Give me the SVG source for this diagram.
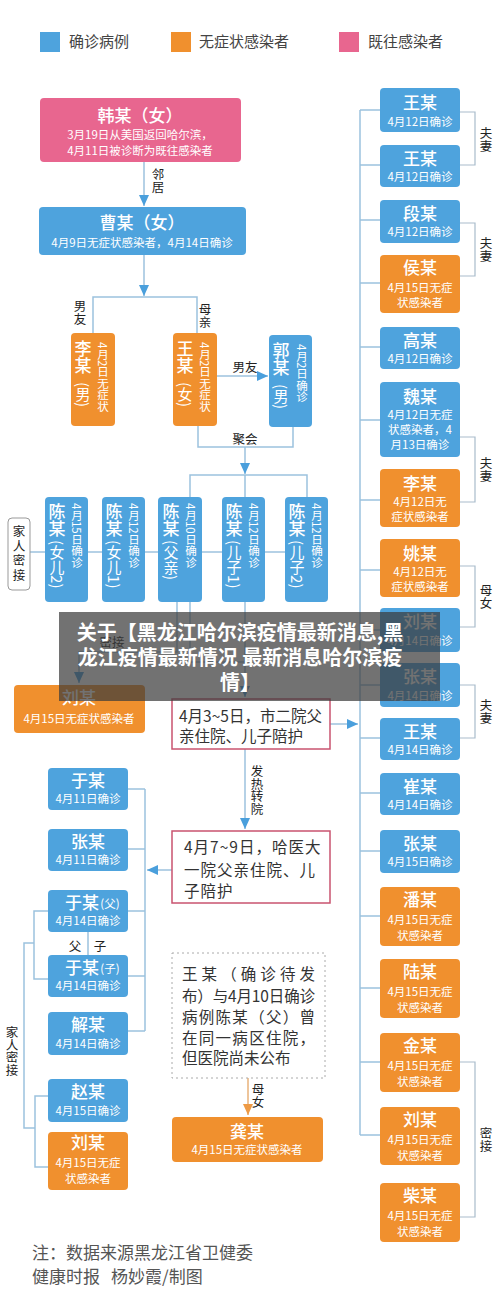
<svg xmlns="http://www.w3.org/2000/svg" width="500" height="1313" viewBox="0 0 500 1313">
<style>
text{font-family:"Noto Sans CJK SC","Noto Sans",sans-serif;}
.b{fill:#4ea3dd}
.o{fill:#f0902e}
.p{fill:#e8668f}
.t{fill:#fff;font-size:17px;text-anchor:middle;font-weight:500}
.s{fill:#fff;font-size:11.5px;text-anchor:middle}
.ln{fill:none;stroke:#9cc2de;stroke-width:1.5}
.br{fill:none;stroke:#a9bccb;stroke-width:1.2}
.lb{fill:#222;font-size:12.5px;writing-mode:vertical-rl}
.lh{fill:#222;font-size:12.5px;text-anchor:middle}
.vt{fill:#fff;font-size:17px;writing-mode:vertical-rl;font-weight:500}
.vp{fill:#fff;font-size:15px;writing-mode:vertical-rl}
.vs{fill:#fff;font-size:11.5px;writing-mode:vertical-rl}
.bx{fill:#fff;stroke:#c9536f;stroke-width:1.5}
.bt{fill:#333;font-size:15.5px}
.leg{fill:#444;font-size:15px}
</style>
<defs>
<marker id="ab" markerUnits="userSpaceOnUse" markerWidth="12" markerHeight="10" refX="11" refY="5" orient="auto"><path d="M0,0 L11,5 L0,10 z" fill="#4a9fdc"/></marker>
<marker id="ao" markerUnits="userSpaceOnUse" markerWidth="12" markerHeight="10" refX="11" refY="5" orient="auto"><path d="M0,0 L11,5 L0,10 z" fill="#ee9a45"/></marker>
</defs>

<g id="legend">
<rect x="40" y="32" width="20" height="20" class="b"/><text x="69" y="47" class="leg">确诊病例</text>
<rect x="171" y="32" width="20" height="20" class="o"/><text x="199" y="47" class="leg">无症状感染者</text>
<rect x="339" y="32" width="20" height="20" class="p"/><text x="368" y="47" class="leg">既往感染者</text>
</g>

<g id="connectors">
<line x1="144" y1="162" x2="144" y2="206" class="ln" marker-end="url(#ab)"/>
<line x1="144" y1="255" x2="144" y2="296" class="ln" marker-end="url(#ab)"/>
<path d="M93,333 V297 H197 V333" class="ln"/>
<line x1="217" y1="376" x2="268" y2="376" class="ln" marker-end="url(#ab)"/>
<path d="M198,426 V447 H293 V427" class="ln"/>
<line x1="245" y1="447" x2="245" y2="474" class="ln" marker-end="url(#ab)"/>
<path d="M190,497 V475 H307 V497 M245,475 V497" class="ln"/>
<line x1="30" y1="552" x2="285" y2="552" class="ln"/>
<path d="M177,602 V652 H79 V683" class="ln" marker-end="url(#ab)"/>
<path d="M190,602 V662 H245" class="ln"/>
<line x1="245" y1="602" x2="245" y2="697" class="ln" marker-end="url(#ab)"/>
<line x1="245" y1="749" x2="245" y2="829" class="ln" marker-end="url(#ab)"/>
<line x1="172" y1="870" x2="147" y2="870" class="ln" marker-end="url(#ab)"/>
<line x1="330" y1="724" x2="358" y2="724" class="ln" marker-end="url(#ab)"/>
<path d="M145,789 V1031 M128,789 H145 M128,849 H145 M128,911 H145 M128,976 H145 M128,1031 H145" class="ln"/>
<path d="M48,911 H34 V979 H48 M34,943 H24 V1128 H35 M48,1096 H35 V1167 H48 M88,932 V955" class="ln"/>
<line x1="248" y1="1078" x2="248" y2="1115" stroke="#e8b27a" stroke-width="1.5" marker-end="url(#ao)"/>
<path d="M360,110 V1135 M360,110 H380 M360,165 H380 M360,220 H380 M360,283 H380 M360,347 H380 M360,420 H380 M360,500 H380 M360,570 H380 M360,630 H380 M360,685 H380 M360,738 H380 M360,793 H380 M360,851 H380 M360,916 H380 M360,988 H380 M360,1062 H380 M360,1135 H380" class="ln"/>
<path d="M460,112 H475 V165 H460 M460,223 H475 V276 H460 M460,437 H475 V502 H460 M460,566 H475 V627 H460 M460,685 H475 V738 H460 M460,1062 H475 V1217 H460" class="br"/>
<text x="158" y="168" class="lb">邻居</text>
<text x="80" y="300" class="lb">男友</text>
<text x="205" y="303" class="lb">母亲</text>
<text x="245" y="372" class="lh">男友</text>
<text x="245" y="444" class="lh">聚会</text>
<text x="112" y="647" class="lh">密接</text>
<text x="257" y="765" class="lb">发热转院</text>
<text x="75" y="951" class="lh" font-size="14">父</text>
<text x="100" y="951" class="lh" font-size="14">子</text>
<text x="12" y="1026" class="lb" font-size="12">家人密接</text>
<text x="258" y="1083" class="lb" font-size="12">母女</text>
<text x="486" y="127" class="lb">夫妻</text>
<text x="486" y="237" class="lb">夫妻</text>
<text x="486" y="457" class="lb">夫妻</text>
<text x="486" y="584" class="lb">母女</text>
<text x="486" y="699" class="lb">夫妻</text>
<text x="486" y="1127" class="lb">密接</text>
</g>

<g id="han"><rect x="40" y="98" width="201" height="64" rx="4" class="p"/>
<text x="140" y="122" class="t" font-size="18">韩某（女）</text>
<text x="140" y="139" class="s">3月19日从美国返回哈尔滨，</text>
<text x="140" y="155" class="s">4月11日被诊断为既往感染者</text></g>

<g id="cao"><rect x="39" y="207" width="207" height="48" rx="4" class="b"/>
<text x="142" y="229" class="t" font-size="18">曹某（女）</text>
<text x="142" y="247" class="s">4月9日无症状感染者，4月14日确诊</text></g>

<g id="li1"><rect x="71" y="333" width="44" height="93" rx="4" class="o"/>
<text x="83" y="340" class="vt">李某</text><text x="83" y="382" class="vp">(男)</text>
<text x="103" y="342" class="vs">4月2日无症状</text></g>

<g id="wang0"><rect x="173" y="333" width="44" height="93" rx="4" class="o"/>
<text x="185" y="340" class="vt">王某</text><text x="185" y="382" class="vp">(女)</text>
<text x="205" y="342" class="vs">4月2日无症状</text></g>

<g id="guo"><rect x="269" y="335" width="43" height="92" rx="4" class="b"/>
<text x="281" y="342" class="vt">郭某</text><text x="281" y="384" class="vp">(男)</text>
<text x="302" y="344" class="vs">4月2日确诊</text></g>

<g id="jiaren1"><rect x="8" y="518" width="22" height="72" rx="4" fill="#fff" stroke="#999"/>
<text x="19" y="525" class="lb" font-size="13" letter-spacing="2">家人密接</text></g>

<g id="chen-d2"><rect x="45" y="497" width="43" height="105" rx="4" class="b"/>
<text x="57" y="503" class="vt">陈某</text><text x="57" y="540" class="vp">(女儿2)</text>
<text x="77" y="503" class="vs" font-size="12">4月15日确诊</text></g>
<g id="chen-d1"><rect x="102" y="497" width="43" height="105" rx="4" class="b"/>
<text x="114" y="503" class="vt">陈某</text><text x="114" y="540" class="vp">(女儿1)</text>
<text x="134" y="503" class="vs" font-size="12">4月12日确诊</text></g>
<g id="chen-f"><rect x="158" y="497" width="44" height="105" rx="4" class="b"/>
<text x="171" y="503" class="vt">陈某</text><text x="171" y="540" class="vp">(父亲)</text>
<text x="191" y="503" class="vs" font-size="12">4月10日确诊</text></g>
<g id="chen-s1"><rect x="222" y="497" width="43" height="105" rx="4" class="b"/>
<text x="234" y="503" class="vt">陈某</text><text x="234" y="540" class="vp">(儿子1)</text>
<text x="254" y="503" class="vs" font-size="12">4月12日确诊</text></g>
<g id="chen-s2"><rect x="285" y="497" width="43" height="105" rx="4" class="b"/>
<text x="297" y="503" class="vt">陈某</text><text x="297" y="540" class="vp">(儿子2)</text>
<text x="317" y="503" class="vs" font-size="12">4月12日确诊</text></g>

<g id="liu-top"><rect x="14" y="685" width="131" height="48" rx="4" class="o"/>
<text x="79" y="704" class="t">刘某</text><text x="79" y="723" class="s">4月15日无症状感染者</text></g>

<g id="hosp1"><rect x="172" y="699" width="158" height="50" class="bx"/>
<text x="179" y="722" class="bt">4月3~5日，市二院父</text>
<text x="179" y="742" class="bt">亲住院、儿子陪护</text></g>

<g id="hosp2"><rect x="172" y="831" width="158" height="72" class="bx"/>
<text x="184" y="853" class="bt" letter-spacing="1">4月7~9日，哈医大</text>
<text x="184" y="876" class="bt" letter-spacing="1">一院父亲住院、儿</text>
<text x="184" y="897" class="bt" letter-spacing="1">子陪护</text></g>

<g id="note"><rect x="172" y="953" width="153" height="125" fill="none" stroke="#aaa" stroke-dasharray="2,3"/>
<text x="182" y="980" class="bt" font-size="15" textLength="133" lengthAdjust="spacing">王某（确诊待发</text>
<text x="182" y="1002" class="bt" font-size="15" textLength="133" lengthAdjust="spacing">布）与4月10日确诊</text>
<text x="182" y="1023" class="bt" font-size="15" textLength="133" lengthAdjust="spacing">病例陈某（父）曾</text>
<text x="182" y="1044" class="bt" font-size="15" textLength="133" lengthAdjust="spacing">在同一病区住院，</text>
<text x="182" y="1064" class="bt" font-size="15">但医院尚未公布</text></g>

<g id="gong"><rect x="172" y="1117" width="151" height="45" rx="4" class="o"/>
<text x="247" y="1138" class="t">龚某</text><text x="247" y="1154" class="s">4月15日无症状感染者</text></g>

<g id="yu1"><rect x="48" y="768" width="80" height="42" rx="4" class="b"/><text x="88" y="787" class="t">于某</text><text x="88" y="803" class="s">4月11日确诊</text></g>
<g id="zhang1"><rect x="48" y="829" width="80" height="42" rx="4" class="b"/><text x="88" y="848" class="t">张某</text><text x="88" y="864" class="s">4月11日确诊</text></g>
<g id="yu-f"><rect x="48" y="890" width="80" height="42" rx="4" class="b"/><text x="82" y="909" class="t">于某</text><text x="110" y="908" class="s" font-size="12">(父)</text><text x="88" y="925" class="s">4月14日确诊</text></g>
<g id="yu-s"><rect x="48" y="955" width="80" height="42" rx="4" class="b"/><text x="82" y="974" class="t">于某</text><text x="110" y="973" class="s" font-size="12">(子)</text><text x="88" y="990" class="s">4月14日确诊</text></g>
<g id="xie"><rect x="48" y="1012" width="80" height="43" rx="4" class="b"/><text x="88" y="1031" class="t">解某</text><text x="88" y="1048" class="s">4月14日确诊</text></g>
<g id="zhao"><rect x="48" y="1079" width="80" height="43" rx="4" class="b"/><text x="88" y="1098" class="t">赵某</text><text x="88" y="1115" class="s">4月15日确诊</text></g>
<g id="liu-l"><rect x="48" y="1132" width="80" height="58" rx="4" class="o"/><text x="88" y="1149" class="t">刘某</text><text x="88" y="1167" class="s">4月15日无症</text><text x="88" y="1183" class="s">状感染者</text></g>

<g id="r1"><rect x="380" y="88" width="80" height="44" rx="4" class="b"/><text x="420" y="109" class="t">王某</text><text x="420" y="126" class="s">4月12日确诊</text></g>
<g id="r2"><rect x="380" y="145" width="80" height="42" rx="4" class="b"/><text x="420" y="165" class="t">王某</text><text x="420" y="181" class="s">4月12日确诊</text></g>
<g id="r3"><rect x="380" y="200" width="80" height="43" rx="4" class="b"/><text x="420" y="220" class="t">段某</text><text x="420" y="236" class="s">4月12日确诊</text></g>
<g id="r4"><rect x="380" y="255" width="80" height="58" rx="4" class="o"/><text x="420" y="274" class="t">侯某</text><text x="420" y="292" class="s">4月15日无症</text><text x="420" y="307" class="s">状感染者</text></g>
<g id="r5"><rect x="380" y="327" width="80" height="42" rx="4" class="b"/><text x="420" y="347" class="t">高某</text><text x="420" y="363" class="s">4月12日确诊</text></g>
<g id="r6"><rect x="380" y="382" width="80" height="75" rx="4" class="b"/><text x="420" y="403" class="t">魏某</text><text x="420" y="419" class="s">4月12日无症</text><text x="420" y="434" class="s">状感染者，4</text><text x="420" y="449" class="s">月13日确诊</text></g>
<g id="r7"><rect x="380" y="469" width="80" height="58" rx="4" class="o"/><text x="420" y="490" class="t">李某</text><text x="420" y="506" class="s">4月12日无</text><text x="420" y="521" class="s">症状感染者</text></g>
<g id="r8"><rect x="380" y="539" width="80" height="58" rx="4" class="o"/><text x="420" y="560" class="t">姚某</text><text x="420" y="576" class="s">4月12日无</text><text x="420" y="591" class="s">症状感染者</text></g>
<g id="r9"><rect x="380" y="608" width="80" height="44" rx="4" class="b"/><text x="420" y="628" class="t">刘某</text><text x="420" y="645" class="s">4月14日确诊</text></g>
<g id="r10"><rect x="380" y="663" width="80" height="44" rx="4" class="b"/><text x="420" y="683" class="t">张某</text><text x="420" y="700" class="s">4月14日确诊</text></g>
<g id="r11"><rect x="380" y="718" width="80" height="42" rx="4" class="b"/><text x="420" y="738" class="t">王某</text><text x="420" y="754" class="s">4月14日确诊</text></g>
<g id="r12"><rect x="380" y="773" width="80" height="42" rx="4" class="b"/><text x="420" y="793" class="t">崔某</text><text x="420" y="809" class="s">4月14日确诊</text></g>
<g id="r13"><rect x="380" y="830" width="80" height="43" rx="4" class="b"/><text x="420" y="850" class="t">张某</text><text x="420" y="866" class="s">4月15日确诊</text></g>
<g id="r14"><rect x="380" y="887" width="80" height="59" rx="4" class="o"/><text x="420" y="906" class="t">潘某</text><text x="420" y="924" class="s">4月15日无症</text><text x="420" y="940" class="s">状感染者</text></g>
<g id="r15"><rect x="380" y="959" width="80" height="59" rx="4" class="o"/><text x="420" y="978" class="t">陆某</text><text x="420" y="996" class="s">4月15日无症</text><text x="420" y="1012" class="s">状感染者</text></g>
<g id="r16"><rect x="380" y="1033" width="80" height="59" rx="4" class="o"/><text x="420" y="1052" class="t">金某</text><text x="420" y="1070" class="s">4月15日无症</text><text x="420" y="1086" class="s">状感染者</text></g>
<g id="r17"><rect x="380" y="1107" width="80" height="58" rx="4" class="o"/><text x="420" y="1126" class="t">刘某</text><text x="420" y="1144" class="s">4月15日无症</text><text x="420" y="1160" class="s">状感染者</text></g>
<g id="r18"><rect x="380" y="1183" width="80" height="59" rx="4" class="o"/><text x="420" y="1202" class="t">柴某</text><text x="420" y="1220" class="s">4月15日无症</text><text x="420" y="1236" class="s">状感染者</text></g>

<g id="footer">
<text x="32" y="1259" fill="#555" font-size="17">注：数据来源黑龙江省卫健委</text>
<text x="32" y="1283" fill="#555" font-size="17">健康时报<tspan x="111">杨妙霞/制图</tspan></text>
</g>

<g id="watermark">
<rect x="59" y="612" width="381" height="89" fill="#3c3c3c" fill-opacity="0.72"/>
<text x="240" y="640" fill="#fff" font-size="20" font-weight="700" text-anchor="middle">关于【黑龙江哈尔滨疫情最新消息,黑</text>
<text x="240" y="665" fill="#fff" font-size="20" font-weight="700" text-anchor="middle">龙江疫情最新情况 最新消息哈尔滨疫</text>
<text x="240" y="690" fill="#fff" font-size="20" font-weight="700" text-anchor="middle">情】</text>
</g>
</svg>
